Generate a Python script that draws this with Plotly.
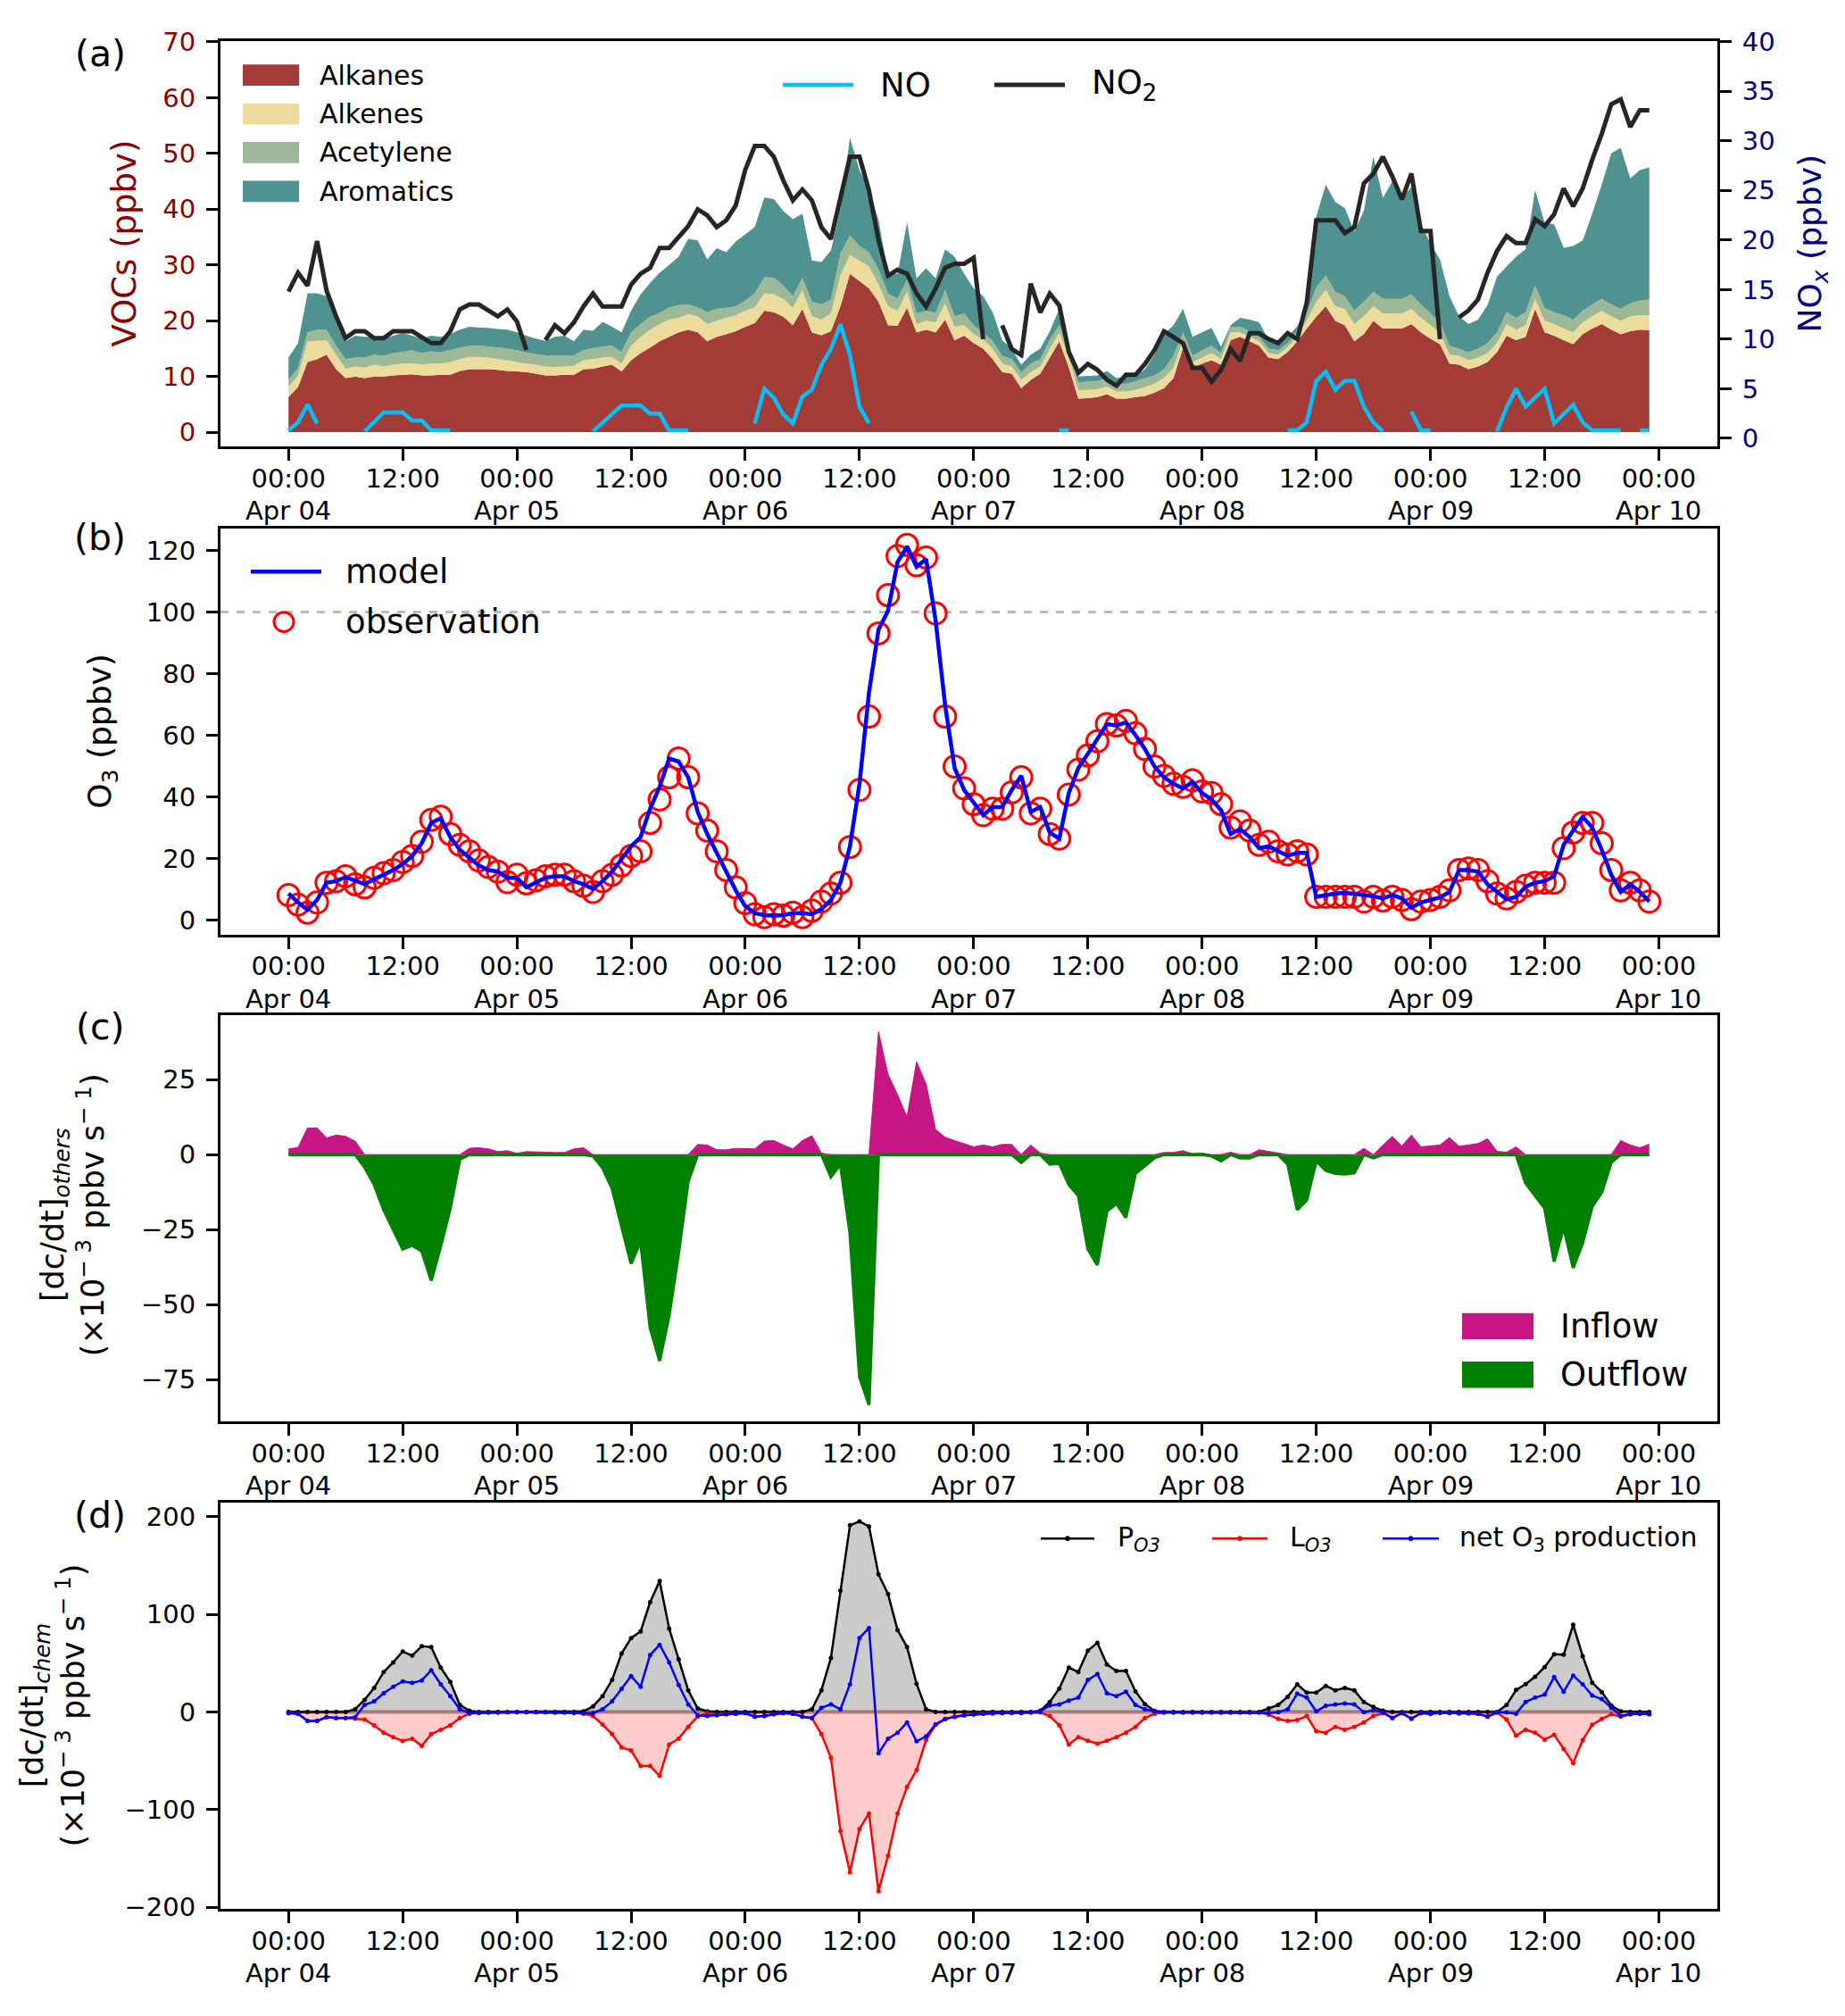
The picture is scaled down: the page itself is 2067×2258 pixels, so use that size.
import pandas as pd
import plotly.graph_objects as go

N = None
start_time = "2021-04-04 00:00"
n_hours = 144
times = pd.date_range(start_time, periods=n_hours, freq="h")
tick_times = pd.date_range(start_time, periods=13, freq="12h")
tick_labels = ["00:00", "12:00", "00:00", "12:00", "00:00", "12:00", "00:00",
               "12:00", "00:00", "12:00", "00:00", "12:00", "00:00"]
date_times = pd.date_range(start_time, periods=7, freq="24h")
date_labels = ["Apr 04", "Apr 05", "Apr 06", "Apr 07", "Apr 08", "Apr 09", "Apr 10"]

# ---------------- (a) VOCs (ppbv), stacked components ----------------
alkanes = [6.3, 8.1, 12.6, 13.1, 13.9, 11.3, 9.7, 10.0, 9.7, 10.0, 10.0, 10.2,
           10.3, 10.4, 10.2, 10.2, 10.3, 10.3, 11.0, 11.3, 11.3, 11.3, 11.2, 11.0,
           10.9, 10.8, 10.5, 10.2, 10.2, 10.3, 10.3, 11.3, 11.4, 11.8, 12.1, 10.9,
           12.9, 14.2, 15.2, 16.3, 17.1, 17.9, 18.4, 17.9, 16.3, 17.1, 17.6, 18.1,
           18.9, 19.6, 21.8, 21.5, 20.7, 19.2, 22.1, 17.9, 17.4, 18.1, 22.6, 28.4,
           27.1, 25.8, 23.4, 19.2, 19.1, 22.3, 17.9, 18.4, 17.9, 20.2, 16.5, 17.3,
           16.0, 15.0, 13.1, 10.8, 10.5, 7.9, 9.4, 10.5, 13.4, 16.3, 11.6, 6.0,
           6.1, 6.3, 6.8, 6.0, 6.0, 6.3, 6.5, 7.1, 7.9, 9.7, 15.2, 11.6,
           12.3, 12.9, 12.1, 16.5, 17.1, 16.3, 15.5, 13.4, 13.1, 14.4, 16.3, 18.6,
           20.7, 22.6, 20.0, 19.2, 16.3, 17.6, 20.0, 18.6, 18.6, 18.6, 19.4, 17.9,
           16.8, 15.8, 12.3, 12.1, 11.3, 11.8, 12.6, 14.4, 17.3, 16.5, 17.1, 22.1,
           17.9, 17.3, 16.5, 15.8, 17.6, 18.6, 19.4, 18.4, 17.6, 18.1, 18.4, 18.3]
alkenes = [1.8, 2.1, 3.7, 3.3, 2.6, 2.6, 1.7, 1.8, 1.9, 2.1, 1.8, 1.9,
           2.0, 2.0, 1.9, 2.1, 2.0, 2.3, 2.1, 2.2, 2.2, 2.1, 1.9, 1.9,
           1.7, 1.5, 1.6, 1.6, 1.5, 1.5, 1.6, 1.6, 1.7, 1.6, 1.4, 1.4,
           2.6, 2.9, 3.2, 3.1, 3.1, 2.6, 2.8, 2.9, 3.1, 2.9, 2.9, 2.9,
           2.9, 2.8, 3.1, 3.2, 3.2, 3.1, 3.4, 2.9, 2.8, 3.2, 5.5, 3.4,
           3.7, 3.9, 3.1, 3.4, 2.7, 2.9, 1.5, 1.6, 1.8, 2.9, 2.4, 1.9,
           1.6, 1.6, 1.9, 1.5, 1.3, 1.5, 1.4, 1.3, 1.6, 1.6, 1.8, 1.6,
           1.5, 1.4, 1.4, 1.3, 1.3, 1.3, 1.6, 1.6, 1.8, 1.9, 1.4, 1.0,
           1.1, 1.3, 1.0, 1.4, 0.8, 0.8, 0.8, 0.8, 0.8, 0.9, 0.8, 1.4,
           2.7, 2.9, 2.6, 2.9, 3.1, 3.2, 2.6, 2.7, 2.7, 2.7, 2.7, 2.6,
           2.4, 2.1, 1.6, 1.6, 1.6, 1.6, 1.6, 1.6, 2.1, 1.9, 2.1, 1.8,
           2.1, 2.1, 2.1, 2.1, 2.1, 2.2, 2.4, 2.4, 2.4, 2.7, 2.6, 2.7]
acetylene = [1.3, 1.3, 1.6, 2.0, 1.9, 1.6, 1.7, 1.6, 1.8, 1.8, 1.9, 2.1,
             2.1, 2.3, 2.1, 2.2, 2.1, 2.1, 2.1, 2.0, 2.0, 2.0, 2.1, 2.1,
             2.1, 2.0, 1.9, 2.0, 2.0, 1.9, 1.9, 1.8, 2.0, 2.0, 2.0, 2.1,
             2.4, 2.3, 2.3, 2.0, 2.2, 2.3, 1.7, 1.6, 2.1, 2.1, 1.8, 1.6,
             1.8, 2.5, 2.9, 3.0, 2.4, 2.1, 2.2, 2.6, 2.7, 2.5, 4.0, 3.5,
             2.6, 2.6, 2.7, 2.3, 2.1, 2.1, 1.9, 1.8, 1.7, 2.4, 1.9, 2.1,
             1.6, 1.3, 1.3, 1.4, 1.3, 1.4, 1.5, 1.3, 1.6, 1.3, 1.3, 1.3,
             1.5, 1.5, 1.5, 1.4, 1.4, 1.5, 1.6, 1.5, 1.6, 2.1, 1.3, 1.1,
             1.3, 1.3, 1.1, 1.0, 1.0, 1.0, 0.8, 0.8, 0.8, 0.7, 1.0, 1.3,
             2.6, 2.6, 2.6, 2.3, 2.4, 2.6, 2.6, 2.6, 2.6, 2.6, 2.6, 2.4,
             2.1, 1.8, 1.6, 1.3, 1.4, 1.6, 1.8, 1.9, 2.1, 2.1, 2.3, 2.4,
             2.3, 2.1, 2.4, 2.3, 2.1, 2.1, 2.1, 2.1, 2.1, 2.3, 2.6, 2.8]
aromatics = [4.0, 4.5, 7.0, 6.5, 6.0, 4.5, 3.2, 3.9, 3.7, 3.2, 3.1, 3.1,
             3.4, 2.6, 2.6, 2.8, 2.7, 2.9, 3.2, 3.4, 3.3, 3.3, 3.3, 3.4,
             3.2, 3.0, 2.8, 2.6, 3.4, 3.6, 2.5, 3.7, 3.1, 4.4, 3.4, 3.5,
             3.9, 5.3, 6.1, 7.2, 7.6, 8.7, 11.8, 12.0, 9.5, 10.9, 10.0, 11.6,
             11.9, 11.9, 14.3, 14.1, 13.4, 13.8, 11.5, 7.4, 7.6, 8.8, 8.1, 17.5,
             13.6, 11.1, 8.9, 3.5, 4.5, 10.3, 6.3, 7.6, 6.2, 7.3, 10.7, 7.1,
             6.6, 6.5, 5.2, 2.8, 1.9, 1.3, 1.6, 1.9, 1.5, 2.9, 0.8, 1.1,
             1.0, 1.0, 1.3, 1.0, 1.3, 1.1, 1.6, 3.7, 6.3, 5.5, 4.2, 3.4,
             3.2, 3.2, 1.1, 0.3, 1.6, 2.1, 2.6, 1.5, 1.1, 1.1, 0.9, 1.0,
             12.7, 16.3, 16.1, 15.8, 14.2, 16.3, 24.2, 18.1, 21.1, 18.1, 19.3, 14.4,
             12.6, 11.3, 8.9, 5.8, 5.1, 5.2, 6.8, 10.0, 8.2, 11.0, 11.3, 17.1,
             15.3, 15.8, 12.1, 13.2, 12.6, 16.3, 20.5, 27.1, 28.9, 22.4, 23.4, 23.7]

# NOx (ppbv), right axis
no = [0.8, 1.6, 3.4, 1.5, N, N, N, N, 0.7, 1.6, 2.6, 2.6,
      2.6, 1.8, 1.8, 0.8, 0.8, 0.8, N, N, N, N, N, N,
      N, N, N, N, N, N, N, N, 0.7, 1.6, 2.5, 3.3,
      3.3, 3.3, 2.5, 2.5, 0.8, 0.8, 0.8, N, N, N, N, N,
      N, 1.5, 5.0, 4.1, 2.4, 1.5, 4.2, 4.9, 7.4, 9.0, 11.5, 8.4,
      3.2, 1.5, N, N, N, N, N, N, N, N, N, N,
      N, N, N, N, N, N, N, N, N, 0.8, 0.8, N,
      N, N, N, N, N, N, N, N, N, N, N, N,
      N, N, N, N, N, N, N, N, N, 0.8, 0.8, 1.6,
      5.8, 6.7, 4.9, 5.8, 5.8, 3.2, 1.6, 0.7, N, N, 2.7, 0.8,
      0.8, N, N, N, N, N, N, 0.7, 3.1, 5.0, 3.2, 4.1,
      5.0, 1.5, 2.5, 3.4, 1.6, 0.8, 0.8, 0.8, 0.8, N, 0.8, 0.8]
no2 = [14.8, 16.7, 15.4, 19.9, 14.9, 12.3, 10.1, 10.8, 10.8, 10.1, 10.1, 10.8,
       10.8, 10.8, 10.2, 9.6, 9.6, 10.8, 13.0, 13.5, 13.5, 12.9, 12.3, 13.0,
       11.8, 8.9, N, 9.9, 11.4, 10.6, 11.7, 13.3, 14.6, 13.3, 13.3, 13.3,
       15.5, 16.6, 17.2, 19.2, 19.2, 20.3, 21.4, 23.1, 22.5, 21.3, 22.0, 23.5,
       27.1, 29.5, 29.5, 28.4, 26.0, 24.0, 25.1, 24.0, 21.3, 20.1, 24.5, 28.4,
       28.4, 25.0, 20.0, 16.4, 17.0, 16.6, 14.6, 13.3, 15.1, 17.2, 17.6, 17.6,
       18.2, 10.0, N, 11.4, 9.0, 8.4, 15.6, 12.7, 14.6, 13.4, 8.7, 6.6,
       7.5, 6.9, 5.9, 5.3, 6.4, 6.4, 7.5, 8.9, 10.8, 10.2, 9.6, 7.1,
       7.1, 5.7, 6.9, 9.0, 7.8, 10.6, 10.6, 10.0, 9.6, 10.6, 10.0, 13.7,
       22.0, 22.0, 22.0, 20.7, 21.3, 25.7, 26.7, 28.4, 26.4, 24.1, 26.7, 20.9,
       20.9, 10.0, N, 12.2, 12.9, 14.0, 16.7, 18.9, 20.4, 19.7, 19.7, 22.1,
       21.4, 22.6, 25.2, 23.4, 25.2, 28.1, 30.7, 33.7, 34.2, 31.4, 33.1, 33.1]

# ---------------- (b) O3 (ppbv) ----------------
o3_obs = [8.2, 5.1, 2.5, 5.8, 12.2, 12.7, 14.3, 11.7, 10.7, 13.8, 15.3, 16.3,
          18.9, 20.9, 25.5, 32.6, 33.6, 28.0, 24.5, 22.4, 19.4, 17.3, 15.8, 12.4,
          14.8, 12.0, 13.0, 14.3, 14.8, 14.8, 12.7, 11.2, 9.2, 12.7, 14.8, 17.8,
          20.9, 22.4, 31.6, 39.2, 46.4, 52.5, 46.4, 34.7, 29.1, 22.4, 16.3, 10.7,
          5.6, 2.0, 1.0, 2.0, 1.5, 2.5, 1.0, 3.1, 6.1, 8.7, 12.2, 23.8,
          42.3, 66.1, 93.1, 105.5, 118.2, 121.8, 115.2, 117.7, 99.6, 66.1, 49.9, 42.8,
          37.7, 34.1, 36.2, 36.2, 41.5, 46.4, 34.7, 36.2, 28.0, 26.5, 40.8, 48.9,
          53.5, 58.1, 63.7, 63.2, 64.7, 60.7, 55.6, 49.9, 46.9, 44.3, 43.3, 45.4,
          41.8, 41.3, 37.7, 30.1, 32.1, 29.1, 24.5, 25.5, 22.4, 21.4, 22.4, 21.4,
          7.6, 7.6, 7.6, 7.6, 7.6, 6.1, 7.6, 6.4, 7.6, 6.6, 3.6, 6.1,
          6.6, 7.6, 9.7, 16.3, 16.8, 16.3, 12.7, 8.7, 7.1, 9.2, 11.2, 12.2,
          12.2, 12.2, 23.4, 28.5, 31.6, 31.6, 25.0, 16.3, 9.7, 12.2, 9.7, 6.1]
o3_model = [8.7, 5.8, 3.4, 6.6, 12.2, 12.7, 14.0, 12.7, 11.7, 13.3, 14.8, 16.3,
            18.3, 20.9, 25.0, 31.6, 33.1, 27.0, 22.9, 20.4, 17.8, 16.3, 15.8, 13.8,
            13.8, 10.7, 12.2, 13.8, 14.3, 14.3, 12.7, 11.7, 10.2, 12.7, 15.8, 19.9,
            24.0, 27.0, 36.2, 43.3, 52.5, 51.5, 46.4, 35.2, 28.0, 21.9, 15.8, 9.7,
            4.6, 2.3, 1.7, 1.5, 1.7, 2.3, 2.3, 2.0, 3.6, 6.6, 12.2, 24.0,
            44.3, 73.9, 94.3, 100.4, 116.2, 121.3, 114.7, 117.2, 97.3, 69.8, 49.4, 42.3,
            38.2, 34.1, 36.7, 36.7, 42.3, 46.9, 35.2, 36.7, 28.5, 26.5, 41.3, 49.4,
            54.0, 58.6, 63.7, 63.2, 64.2, 60.1, 55.6, 49.9, 46.4, 44.3, 42.8, 44.9,
            41.3, 39.2, 35.7, 28.0, 29.6, 27.0, 23.4, 24.0, 22.4, 20.9, 21.9, 21.9,
            7.6, 8.2, 8.7, 8.9, 8.7, 8.2, 7.8, 7.1, 8.2, 7.1, 4.1, 5.8,
            6.6, 7.4, 9.2, 16.3, 16.3, 15.8, 11.7, 9.2, 6.8, 7.6, 10.9, 12.2,
            12.7, 14.3, 24.5, 29.1, 33.6, 30.1, 22.9, 14.8, 9.2, 11.7, 9.2, 6.1]
o3_threshold = 100

# ---------------- (c) [dc/dt]others (1e-3 ppbv/s) ----------------
inflow = [1.9, 2.4, 8.9, 8.9, 5.6, 6.5, 6.1, 4.5, 0, 0, 0, 0,
          0, 0, 0, 0, 0, 0, 0, 2.1, 2.3, 1.9, 1.0, 1.3,
          0.4, 1.0, 1.0, 0.8, 0.7, 0.7, 1.9, 2.3, 0, 0, 0, 0,
          0, 0, 0, 0, 0, 0, 0, 3.4, 3.2, 1.6, 1.6, 2.1,
          1.9, 1.9, 4.5, 4.7, 3.2, 1.9, 4.7, 6.3, 0.5, 0, 0, 0,
          0, 0, 41.0, 26.8, 20.0, 12.6, 31.0, 23.6, 8.4, 5.8, 4.7, 3.7,
          2.6, 3.2, 2.6, 3.4, 3.4, 0, 3.2, 0.5, 0, 0, 0, 0,
          0, 0, 0, 0, 0, 0, 0, 0, 0.7, 0.7, 1.3, 0.3,
          0.5, 0, 0, 0.8, 0, 0, 1.6, 1.1, 0.5, 0, 0, 0,
          0, 0, 0, 0, 0, 2.1, 0, 3.2, 6.1, 2.9, 6.5, 2.6,
          2.9, 3.2, 5.7, 2.8, 3.2, 3.7, 5.3, 1.1, 0.8, 2.6, 0, 0,
          0, 0, 0, 0, 0, 0, 0, 0, 4.7, 3.2, 2.3, 3.5]
outflow = [0, 0, 0, 0, 0, 0, 0, 0, -4.2, -10.0, -18.4, -24.7,
           -31.5, -30.3, -32.2, -42.0, -30.5, -17.9, -1.6, 0, 0, 0, 0, 0,
           0, 0, 0, 0, 0, 0, 0, 0, -0.5, -4.4, -11.3, -24.2,
           -36.4, -28.9, -57.8, -68.8, -53.6, -32.6, -8.9, 0, 0, 0, 0, 0,
           0, 0, 0, 0, 0, 0, 0, 0, 0, -7.4, -3.2, -26.3,
           -74.1, -83.5, 0, 0, 0, 0, 0, 0, 0, 0, 0, 0,
           0, 0, 0, 0, 0, -2.6, 0, 0, -3.2, -2.9, -10.0, -13.7,
           -31.5, -36.8, -18.9, -16.3, -21.0, -6.3, -3.7, -1.1, 0, 0, 0, 0,
           0, -0.5, -2.1, 0, -1.1, -1.1, 0, 0, 0, -3.2, -18.4, -15.2,
           -2.1, -5.3, -6.3, -6.5, -6.1, 0, -1.1, 0, 0, 0, 0, 0,
           0, 0, 0, 0, 0, 0, 0, 0, 0, 0, -9.5, -13.7,
           -17.9, -35.7, -24.2, -37.8, -29.4, -17.3, -12.6, -2.6, 0, 0, 0, 0]

# ---------------- (d) [dc/dt]chem (1e-3 ppbv/s) ----------------
p_o3 = [0, 0, 0, 0, 0, 0, 0, 2.7, 12.6, 24.6, 40.9, 50.8,
        61.9, 57.7, 67.3, 66.4, 45.4, 30.7, 7.2, 1.2, 0, 0, 0, 0,
        0, 0, 0, 0, 0, 0, 0, 0.6, 5.7, 16.2, 32.8, 59.8,
        75.7, 82.4, 112.4, 134.1, 85.4, 53.8, 22.2, 3.6, 0.6, 0, 0, 0,
        0, 0, 0, 0, 0, 0, 0, 2.7, 22.2, 55.3, 124.4, 191.2,
        195.1, 190.0, 141.0, 120.8, 83.9, 66.4, 28.9, 2.7, 0, 0, 0, 0,
        0, 0, 0, 0, 0, 0, 0, 1.2, 10.2, 24.0, 45.4, 40.9,
        62.8, 70.9, 48.7, 42.0, 42.0, 21.0, 8.0, 1.0, 0, 0, 0, 0,
        0, 0, 0, 0, 0, 0, 0, 3.6, 7.2, 15.6, 28.3, 19.8,
        19.8, 26.8, 22.2, 24.6, 22.2, 10.2, 5.1, 1.2, 0, 0, 0, 0,
        0, 0, 0, 0, 0, 0, 0, 0, 7.2, 22.5, 28.5, 36.0,
        46.0, 59.2, 58.6, 89.3, 57.2, 30.0, 20.4, 6.6, 0.6, 0, 0, 0]
l_o3 = [-1.2, -1.8, -9.3, -9.3, -5.4, -6.3, -6.3, -6.9, -7.8, -13.8, -21.3, -25.8,
        -29.8, -27.4, -34.9, -22.8, -18.3, -13.8, -6.3, -1.8, -0.9, -0.6, -0.6, -0.3,
        -0.3, -0.3, -0.3, -0.3, -0.6, -0.6, -0.9, -1.8, -4.2, -12.9, -22.8, -36.4,
        -39.4, -55.3, -55.3, -65.5, -33.4, -27.4, -15.3, -4.8, -1.2, -3.3, -2.4, -1.8,
        -1.2, -4.8, -4.2, -2.4, -1.2, -1.8, -4.8, -6.3, -22.8, -46.9, -122.0, -164.1,
        -119.9, -104.0, -183.6, -147.5, -104.0, -76.9, -59.5, -28.9, -13.2, -7.2, -4.8, -3.4,
        -2.4, -2.0, -1.5, -1.2, -0.9, -0.9, -0.6, -0.6, -4.2, -13.8, -33.4, -25.8,
        -29.5, -32.5, -29.5, -25.8, -21.3, -15.3, -6.3, -1.8, -0.6, -0.6, -0.6, -0.6,
        -0.6, -0.6, -0.6, -0.6, -0.6, -0.6, -0.6, -2.7, -7.2, -9.3, -8.4, -4.2,
        -19.8, -21.3, -15.3, -18.3, -15.3, -10.8, -4.2, -1.2, -6.3, -1.2, -6.9, -1.2,
        -1.8, -1.0, -1.0, -1.5, -1.5, -2.0, -4.8, -0.6, -7.8, -24.3, -18.3, -21.3,
        -28.3, -23.4, -37.9, -52.3, -28.9, -13.2, -7.2, -2.4, -4.8, -2.4, -1.8, -2.4]
net_o3 = [-1.2, -1.8, -9.3, -9.3, -5.4, -6.3, -6.3, -5.4, 7.2, 10.8, 19.2, 25.8,
          31.3, 29.8, 32.2, 42.7, 28.3, 16.2, 2.7, -1.2, -0.9, -0.6, -0.6, -0.3,
          -0.3, -0.3, -0.3, -0.3, -0.6, -0.6, -0.9, -1.2, -1.2, 2.7, 10.8, 23.7,
          36.7, 25.8, 58.3, 68.8, 50.8, 27.7, 7.8, -3.6, -4.2, -3.3, -2.4, -1.8,
          -1.2, -4.8, -4.2, -2.4, -1.2, -1.8, -4.8, -6.3, 4.2, 7.8, 2.7, 28.3,
          75.7, 86.0, -42.4, -27.4, -21.3, -10.8, -30.0, -25.0, -12.7, -7.4, -5.0, -3.4,
          -2.6, -2.0, -1.5, -1.2, -0.9, -0.9, -0.6, 0.6, 6.6, 7.8, 11.7, 14.7,
          32.8, 38.8, 19.2, 16.2, 20.7, 7.2, 2.7, 0.6, -0.6, -0.6, -0.6, -0.6,
          -0.6, -0.6, -0.6, -0.6, -0.6, -0.6, -0.6, -1.2, -0.3, 2.7, 18.6, 14.7,
          0.6, 6.3, 7.8, 8.7, 7.8, -0.3, 1.8, -0.3, -6.3, -1.2, -6.9, -1.2,
          -1.8, -1.0, -1.0, -1.5, -1.5, -2.0, -4.8, -0.6, -0.6, -1.8, 10.2, 14.7,
          17.7, 35.8, 20.7, 37.3, 28.3, 16.8, 13.2, 4.2, -4.2, -2.4, -1.8, -2.4]

# ---------------- styling / layout ----------------
PAGE_W, PAGE_H = 2067, 2258
BODY_MARGIN = 8                      # default page margin around the plot div
FW, FH = PAGE_W - 2 * BODY_MARGIN, PAGE_H - 2 * BODY_MARGIN
FONT = "DejaVu Sans"
TICK = 29

voc_names = ["Alkanes", "Alkenes", "Acetylene", "Aromatics"]
voc_colors = ["#a33b36", "#ecdc9c", "#9db897", "#4f9290"]
NO_COLOR, NO2_COLOR = "#00bfff", "#262626"
IN_COLOR, OUT_COLOR = "#c71585", "#008000"


def px(x):
    return (x - BODY_MARGIN) / FW


def py(y):
    return 1 - (y - BODY_MARGIN) / FH


def ydom(top, bot):
    return [py(bot), py(top)]


X0, X1 = px(247), px(1924)
panels = {"a": (30, 491), "b": (584, 1045), "c": (1137, 1598), "d": (1690, 2152)}

pad = pd.Timedelta(hours=7.15)
xr = [str(times[0] - pad), str(times[-1] + pad)]

fig = go.Figure()

for vals, name, col in zip([alkanes, alkenes, acetylene, aromatics], voc_names, voc_colors):
    fig.add_trace(go.Scatter(x=times, y=vals, name=name, mode="none", stackgroup="voc",
                             fillcolor=col, xaxis="x", yaxis="y"))

fig.add_trace(go.Scatter(x=times, y=no, name="NO", mode="lines",
                         line=dict(color=NO_COLOR, width=4.5), xaxis="x", yaxis="y5"))
fig.add_trace(go.Scatter(x=times, y=no2, name="NO<sub>2</sub>", mode="lines",
                         line=dict(color=NO2_COLOR, width=5), xaxis="x", yaxis="y5"))

fig.add_trace(go.Scatter(x=times, y=o3_obs, name="observation", mode="markers",
                         marker=dict(symbol="circle-open", size=24, color="#ff0000",
                                     line=dict(width=3, color="#ff0000")),
                         xaxis="x2", yaxis="y2"))
fig.add_trace(go.Scatter(x=times, y=o3_model, name="model", mode="lines",
                         line=dict(color="#0000ff", width=4.5), xaxis="x2", yaxis="y2"))

fig.add_trace(go.Scatter(x=times, y=inflow, name="Inflow", mode="lines", fill="tozeroy",
                         fillcolor=IN_COLOR, line=dict(color=IN_COLOR, width=1),
                         xaxis="x3", yaxis="y3"))
fig.add_trace(go.Scatter(x=times, y=outflow, name="Outflow", mode="lines", fill="tozeroy",
                         fillcolor=OUT_COLOR, line=dict(color=OUT_COLOR, width=3.5),
                         xaxis="x3", yaxis="y3"))

fig.add_trace(go.Scatter(x=times, y=p_o3, name="P<sub><i>O3</i></sub>", mode="lines+markers",
                         fill="tozeroy", fillcolor="rgba(0,0,0,0.2)",
                         line=dict(color="black", width=2.5), marker=dict(size=5, color="black"),
                         xaxis="x4", yaxis="y4"))
fig.add_trace(go.Scatter(x=times, y=l_o3, name="L<sub><i>O3</i></sub>", mode="lines+markers",
                         fill="tozeroy", fillcolor="rgba(255,0,0,0.2)",
                         line=dict(color="#ff0000", width=2.5), marker=dict(size=5, color="#ff0000"),
                         xaxis="x4", yaxis="y4"))
fig.add_trace(go.Scatter(x=times, y=net_o3, name="net O<sub>3</sub> production",
                         mode="lines+markers",
                         line=dict(color="#0000ff", width=2.5), marker=dict(size=5, color="#0000ff"),
                         xaxis="x4", yaxis="y4"))

ax_common = dict(showline=True, linewidth=3, linecolor="black", mirror=True,
                 ticks="outside", ticklen=13, tickwidth=3, tickcolor="black",
                 showgrid=False, zeroline=False,
                 tickfont=dict(family=FONT, size=TICK, color="black"))


def xax(anchor):
    d = dict(ax_common)
    d.update(type="date", range=xr, tickvals=list(tick_times), ticktext=tick_labels,
             domain=[X0, X1], anchor=anchor, ticklabelstandoff=-5)
    return d


def yax(key, rng, tickvals, anchor, color="black"):
    d = dict(ax_common)
    d.update(domain=ydom(*panels[key]), range=rng, tickvals=tickvals, anchor=anchor,
             ticklabelstandoff=6)
    d["tickfont"] = dict(family=FONT, size=TICK, color=color)
    return d


ya = yax("a", [-2.6, 70.2], [0, 10, 20, 30, 40, 50, 60, 70], "x", "#8b0000")
yb = yax("b", [-4.6, 127.1], [0, 20, 40, 60, 80, 100, 120], "x2")
yc = yax("c", [-89, 46.4], [-75, -50, -25, 0, 25], "x3")
yd = yax("d", [-202, 214.6], [-200, -100, 0, 100, 200], "x4")
y5 = dict(overlaying="y", side="right", anchor="x", range=[-0.85, 40.1],
          tickvals=[0, 5, 10, 15, 20, 25, 30, 35, 40], showgrid=False, zeroline=False,
          showline=True, linewidth=3, linecolor="black", ticks="outside", ticklen=13,
          tickwidth=3, tickcolor="black", ticklabelstandoff=6,
          tickfont=dict(family=FONT, size=TICK, color="#000080"))

fig.update_layout(
    width=FW, height=FH, margin=dict(l=0, r=0, t=0, b=0),
    plot_bgcolor="white", paper_bgcolor="white",
    font=dict(family=FONT, size=TICK, color="black"),
    xaxis=xax("y"), xaxis2=xax("y2"), xaxis3=xax("y3"), xaxis4=xax("y4"),
    yaxis=ya, yaxis2=yb, yaxis3=yc, yaxis4=yd, yaxis5=y5,
    showlegend=False,
)

shapes = []
ann = []

# reference line at the O3 standard and zero band in (d)
shapes.append(dict(type="line", xref="x2 domain", x0=0, x1=1, yref="y2",
                   y0=o3_threshold, y1=o3_threshold,
                   line=dict(color="#bbbbbb", width=3, dash="dash"), layer="below"))
shapes.append(dict(type="line", xref="x4", x0=times[0], x1=times[-1], yref="y4", y0=0, y1=0,
                   line=dict(color="rgba(150,110,110,0.7)", width=4), layer="below"))


def label(text, x, y, size=TICK, color="black", angle=0, xanchor="center"):
    ann.append(dict(text=text, x=px(x), y=py(y), xref="paper", yref="paper",
                    showarrow=False, xanchor=xanchor, yanchor="middle", textangle=angle,
                    borderpad=0, font=dict(family=FONT, size=size, color=color)))


def legend_patch(x0, x1, yc, h, color):
    shapes.append(dict(type="rect", xref="paper", yref="paper", x0=px(x0), x1=px(x1),
                       y0=py(yc + h / 2), y1=py(yc - h / 2), fillcolor=color,
                       line=dict(width=0)))


def legend_line(x0, x1, yc, color, width):
    shapes.append(dict(type="line", xref="paper", yref="paper", x0=px(x0), x1=px(x1),
                       y0=py(yc), y1=py(yc), line=dict(color=color, width=width)))


def legend_dot(xc, yc, r, color, fill, width):
    shapes.append(dict(type="circle", xref="paper", yref="paper", x0=px(xc - r), x1=px(xc + r),
                       y0=py(yc + r), y1=py(yc - r), fillcolor=fill,
                       line=dict(color=color, width=width)))


# second line of the time axis labels (dates under each 00:00 tick)
for xname, key in zip(["x", "x2", "x3", "x4"], ["a", "b", "c", "d"]):
    ybot = panels[key][1]
    for dt, txt in zip(date_times, date_labels):
        ann.append(dict(text=txt, x=dt, xref=xname, y=py(ybot + 73), yref="paper",
                        showarrow=False, xanchor="center", yanchor="middle", borderpad=0,
                        font=dict(family=FONT, size=TICK, color="black")))

# legend (a): VOC groups
for name, col, yc in zip(voc_names, voc_colors, [69, 113, 157, 201]):
    legend_patch(272, 335, yc, 24, col)
    label(name, 357, yc, 30, xanchor="left")
# legend (a): NOx
legend_line(877, 956, 80, NO_COLOR, 4.5)
label("NO", 985, 80, 37, xanchor="left")
legend_line(1114, 1193, 80, NO2_COLOR, 5)
label("NO<sub>2</sub>", 1222, 80, 37, xanchor="left")
# legend (b)
legend_line(281, 360, 633, "#0000ff", 4.5)
label("model", 386, 633, 37, xanchor="left")
legend_dot(318, 690, 11, "#ff0000", "rgba(0,0,0,0)", 3)
label("observation", 386, 690, 37, xanchor="left")
# legend (c)
legend_patch(1638, 1718, 1490, 30, IN_COLOR)
label("Inflow", 1747, 1490, 37, xanchor="left")
legend_patch(1638, 1718, 1545, 30, OUT_COLOR)
label("Outflow", 1747, 1545, 37, xanchor="left")
# legend (d)
for (lx0, lx1, tx, col, txt) in [(1166, 1226, 1251, "black", "P<sub><i>O3</i></sub>"),
                                 (1358, 1420, 1444, "#ff0000", "L<sub><i>O3</i></sub>"),
                                 (1549, 1612, 1634, "#0000ff", "net O<sub>3</sub> production")]:
    legend_line(lx0, lx1, 1731, col, 2.5)
    legend_dot((lx0 + lx1) / 2, 1731, 2.5, col, col, 1)
    label(txt, tx, 1731, 30, xanchor="left")

# panel letters
label("(a)", 112, 44, 41)
label("(b)", 112, 594, 41)
label("(c)", 112, 1150, 41)
label("(d)", 112, 1704, 41)
# axis titles
label("VOCs (ppbv)", 140, 260, 37, "#8b0000", -90)
label("NO<sub><i>x</i></sub> (ppbv)", 2031, 260, 36, "#000080", -90)
label("O<sub>3</sub> (ppbv)", 115, 814, 36, "black", -90)
label("[dc/dt]<sub><i>others</i></sub><br>(×10<sup>− 3</sup> ppbv s<sup>− 1</sup>)",
      82, 1364, 35, "black", -90)
label("[dc/dt]<sub><i>chem</i></sub><br>(×10<sup>− 3</sup> ppbv s<sup>− 1</sup>)",
      59, 1921, 35, "black", -90)

fig.update_layout(shapes=shapes, annotations=ann)

fig.write_html("out.html", config={"displayModeBar": False})
